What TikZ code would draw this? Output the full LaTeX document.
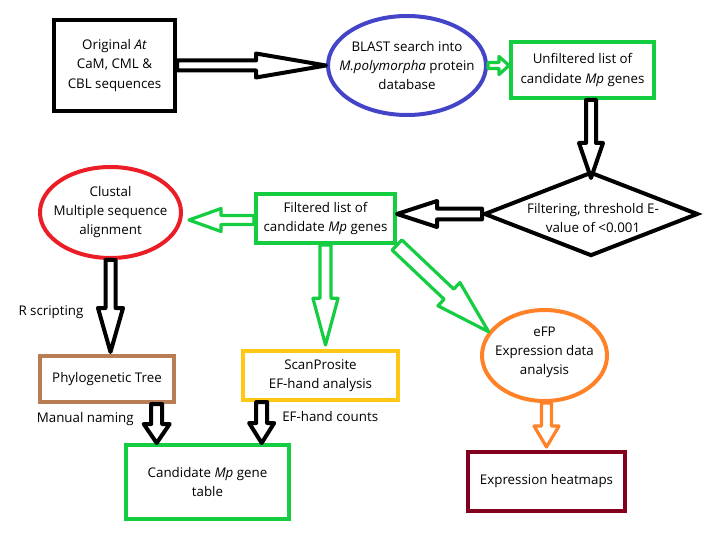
\documentclass[tikz,border=0pt]{standalone}
\usepackage{fontspec}
\setmainfont{Open Sans}
\usetikzlibrary{shapes.geometric,calc}
\definecolor{cblue}{RGB}{68,68,200}
\definecolor{cgreen}{RGB}{20,205,65}
\definecolor{cred}{RGB}{235,30,40}
\definecolor{cbrown}{RGB}{185,125,85}
\definecolor{cyellow}{RGB}{255,200,20}
\definecolor{corange}{RGB}{255,130,40}
\definecolor{cmaroon}{RGB}{130,0,30}
\newcommand\blockarr[6][]{%
  \coordinate (hbase) at ($(#3)!#6!(#2)$);
  \draw[harrow,#1] ($(#2)!#4!90:(#3)$) -- ($(hbase)!#4!90:(#3)$) -- ($(hbase)!#5!90:(#3)$) -- (#3) -- ($(hbase)!#5!-90:(#3)$) -- ($(hbase)!#4!-90:(#3)$) -- ($(#2)!#4!-90:(#3)$) -- cycle;}
\tikzset{
  txt/.style={align=center, inner sep=0pt, font=\fontsize{10}{14.5}\selectfont},
  box/.style={txt, draw, line width=3pt, rectangle},
  oval/.style={draw, line width=3pt, ellipse, inner sep=0pt},
  harrow/.style={draw=black, fill=white, line width=3pt, line join=round},
  garrow/.style={draw=cgreen, line width=2.4pt},
  oarrow/.style={draw=corange, line width=2.4pt},
}
\begin{document}
\begin{tikzpicture}[x=0.75pt, y=-0.75pt]
\useasboundingbox (0,0) rectangle (709,559);
% nodes
\node[box, draw=black, minimum width=90.75pt, minimum height=68.25pt] (orig) at (114.5,65.5) {Original \textit{At}\\CaM, CML \&\\CBL sequences};
\node[oval, draw=cblue, minimum width=118.5pt, minimum height=74.25pt] (blast) at (407,65.5) {};
\node[txt] (blastT) at (407,65.5) {BLAST search into\\\textit{M.polymorpha} protein\\database};
\node[box, draw=cgreen, minimum width=107.25pt, minimum height=42pt] (unf) at (582.5,70) {Unfiltered list of\\candidate \textit{Mp} genes};
\node[diamond, draw, line width=3pt, inner sep=0pt, minimum width=160.5pt, minimum height=63pt] (dia) at (591,214) {};
\node[txt] (diaT) at (593,218) {Filtering, threshold E-\\value of <0.001};
\node[box, draw=cgreen, minimum width=104.25pt, minimum height=36.75pt] (filt) at (325.5,218.5) {Filtered list of\\candidate \textit{Mp} genes};
\node[oval, draw=cred, minimum width=105.75pt, minimum height=68.25pt] (clustal) at (110.5,212.5) {};
\node[txt] (clustalT) at (110.5,212) {Clustal\\Multiple sequence\\alignment};
\node[box, draw=cbrown, minimum width=100.5pt, minimum height=34.5pt] (phylo) at (107,379) {Phylogenetic Tree};
\node[box, draw=cyellow, minimum width=116.25pt, minimum height=36.75pt] (scan) at (320.5,375.5) {ScanProsite\\EF-hand analysis};
\node[oval, draw=corange, minimum width=93.75pt, minimum height=68.25pt] (efp) at (544.5,355.5) {};
\node[txt] (efpT) at (544.5,352.5) {eFP\\Expression data\\analysis};
\node[box, draw=cgreen, minimum width=122.25pt, minimum height=55.5pt] (cand) at (207.5,482) {Candidate \textit{Mp} gene\\table};
\node[box, draw=cmaroon, minimum width=117.75pt, minimum height=44.25pt] (heat) at (546.5,481.5) {Expression heatmaps};
% labels
\node[txt] (rs) at (51,312) {R scripting};
\node[txt, anchor=east] (mn) at (134,419) {Manual naming};
\node[txt, anchor=west] (efc) at (282,416) {EF-hand counts};
% connector end points
\coordinate (t2) at (unf.west |- blast.east);
\coordinate (s3) at (dia.north |- unf.south);
\coordinate (t3) at ($(dia.north)+(0,8)$);
\coordinate (t4) at (filt.east |- dia.west);
\coordinate (s5) at (filt.west |- 0,220);
\coordinate (t5) at ($(clustal.east |- s5)+(6,0)$);
\coordinate (t6) at ($(clustal.south |- phylo.north)+(0,-2)$);
\coordinate (t7) at ($(filt.south |- scan.north)+(0,-4)$);
\coordinate (s9) at ($(scan.south west)!0.13!(scan.south east)$);
\coordinate (t9) at (s9 |- cand.north);
\coordinate (s10) at ($(phylo.south west)!0.86!(phylo.south east)$);
\coordinate (t10) at (s10 |- cand.north);
\coordinate (s11) at ($(efp.south)+(2,0)$);
\coordinate (t11) at ($(s11 |- heat.north)+(0,-3)$);
% connectors
\blockarr{orig.east}{blast.west}{3.75pt}{9pt}{52.5pt}
\blockarr[garrow]{blast.east}{t2}{2.25pt}{6.75pt}{7.5pt}
\blockarr{s3}{t3}{3.75pt}{9pt}{26.25pt}
\blockarr{dia.west}{t4}{4.1pt}{9.75pt}{30pt}
\blockarr[garrow]{s5}{t5}{3.4pt}{8.6pt}{24pt}
\blockarr{clustal.south}{t6}{3.75pt}{9.4pt}{33pt}
\blockarr[garrow]{filt.south}{t7}{4.1pt}{9.4pt}{35pt}
\blockarr[garrow]{filt.south east}{efp.157}{5.25pt}{12pt}{41pt}
\blockarr{s9}{t9}{4.1pt}{9.4pt}{15pt}
\blockarr{s10}{t10}{4.1pt}{9.75pt}{14.25pt}
\blockarr[oarrow]{s11}{t11}{3.75pt}{9.4pt}{15.75pt}
\end{tikzpicture}
\end{document}
